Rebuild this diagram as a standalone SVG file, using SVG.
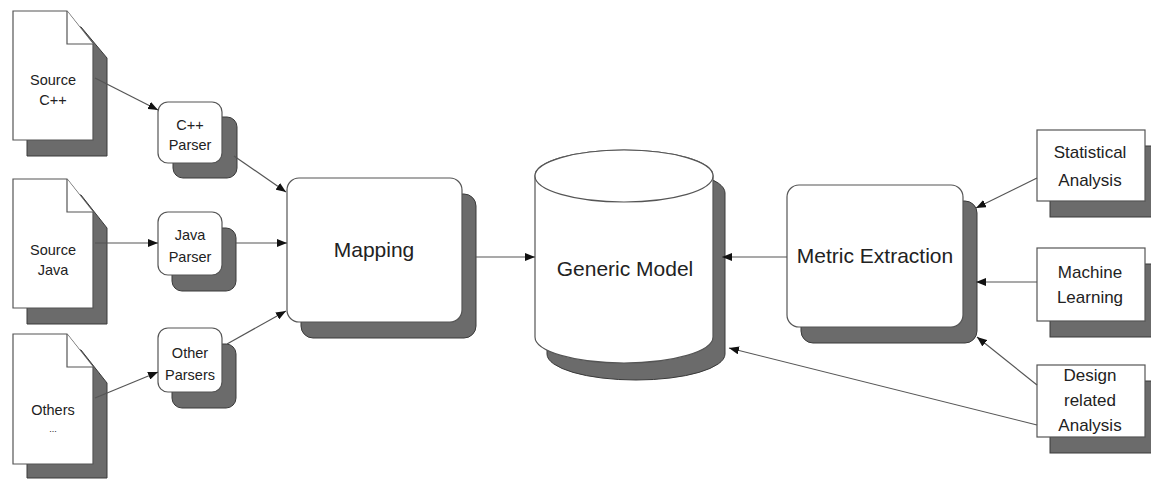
<svg xmlns="http://www.w3.org/2000/svg" width="1151" height="479" viewBox="0 0 1151 479">
<defs>
<style>
.sh{fill:#6b6b6b;stroke:#3a3a3a;stroke-width:1}
.bx{fill:#fff;stroke:#555;stroke-width:1.2}
.t{font-family:"Liberation Sans",Arial,sans-serif;fill:#222;text-anchor:middle}
.s{font-size:14.5px}
.m{font-size:17px}
.l{font-size:21px}
.c{fill:none;stroke:#555;stroke-width:1.2}
</style>
<marker id="ah" viewBox="0 0 10 8" refX="10" refY="4" markerWidth="10" markerHeight="8" markerUnits="userSpaceOnUse" orient="auto">
<path d="M0,0 L10,4 L0,8 Z" fill="#111"/>
</marker>
</defs>
<rect width="1151" height="479" fill="#fff"/>

<g id="src-cpp">
<path class="sh" d="M27,27 L81,27 L107,58 L107,156 L27,156 Z"/>
<path class="bx" d="M13,11 L67,11 L93,44 L93,140 L13,140 Z"/>
<path class="bx" d="M67,11 L67,44 L93,44"/>
<text class="t s" x="53" y="85">Source</text>
<text class="t s" x="53" y="105">C++</text>
</g>
<g id="src-java">
<path class="sh" d="M27,195 L81,195 L107,228 L107,324 L27,324 Z"/>
<path class="bx" d="M13,179 L67,179 L93,212 L93,308 L13,308 Z"/>
<path class="bx" d="M67,179 L67,212 L93,212"/>
<text class="t s" x="53" y="255">Source</text>
<text class="t s" x="53" y="275">Java</text>
</g>
<g id="src-others">
<path class="sh" d="M27,350 L81,350 L107,383 L107,478 L27,478 Z"/>
<path class="bx" d="M13,334 L67,334 L93,367 L93,464 L13,464 Z"/>
<path class="bx" d="M67,334 L67,367 L93,367"/>
<text class="t s" x="53" y="415">Others</text>
<text class="t" x="53" y="432" style="font-size:9px">...</text>
</g>

<g id="cpp-parser">
<rect class="sh" x="173" y="117" width="64" height="61" rx="10"/>
<rect class="bx" x="158" y="102" width="64" height="61" rx="10"/>
<text class="t s" x="190" y="130">C++</text>
<text class="t s" x="190" y="150">Parser</text>
</g>
<g id="java-parser">
<rect class="sh" x="172" y="228" width="64" height="63" rx="10"/>
<rect class="bx" x="158" y="212" width="64" height="63" rx="10"/>
<text class="t s" x="190" y="240">Java</text>
<text class="t s" x="190" y="262">Parser</text>
</g>
<g id="other-parsers">
<rect class="sh" x="172" y="344" width="64" height="64" rx="10"/>
<rect class="bx" x="158" y="328" width="64" height="64" rx="10"/>
<text class="t s" x="190" y="358">Other</text>
<text class="t s" x="190" y="380">Parsers</text>
</g>

<g id="mapping">
<rect class="sh" x="301" y="194" width="175" height="144" rx="12"/>
<rect class="bx" x="287" y="178" width="175" height="144" rx="12"/>
<text class="t l" x="374" y="257">Mapping</text>
</g>

<g id="generic-model">
<path class="sh" d="M547,193 A89,26 0 0 1 725,193 L725,354 A89,26 0 0 1 547,354 Z"/>
<path class="bx" d="M535,176 A89,26 0 0 1 713,176 L713,337 A89,26 0 0 1 535,337 Z"/>
<ellipse class="bx" cx="624" cy="176" rx="89" ry="26"/>
<text class="t l" x="625" y="276">Generic Model</text>
</g>

<g id="metric-extraction">
<rect class="sh" x="801" y="201" width="176" height="142" rx="12"/>
<rect class="bx" x="787" y="185" width="176" height="142" rx="12"/>
<text class="t l" x="875" y="263">Metric Extraction</text>
</g>

<g id="statistical">
<rect class="sh" x="1050" y="146" width="108" height="71"/>
<rect class="bx" x="1037" y="130" width="108" height="71"/>
<text class="t m" x="1090" y="158">Statistical</text>
<text class="t m" x="1090" y="186">Analysis</text>
</g>
<g id="machine-learning">
<rect class="sh" x="1050" y="264" width="108" height="73"/>
<rect class="bx" x="1037" y="248" width="108" height="73"/>
<text class="t m" x="1090" y="278">Machine</text>
<text class="t m" x="1090" y="303">Learning</text>
</g>
<g id="design-analysis">
<rect class="sh" x="1050" y="381" width="108" height="72"/>
<rect class="bx" x="1037" y="365" width="108" height="72"/>
<text class="t m" x="1090" y="381">Design</text>
<text class="t m" x="1090" y="406">related</text>
<text class="t m" x="1090" y="431">Analysis</text>
</g>

<g id="connectors">
<line class="c" x1="95" y1="78" x2="158" y2="110" marker-end="url(#ah)"/>
<line class="c" x1="95" y1="243" x2="158" y2="243" marker-end="url(#ah)"/>
<line class="c" x1="95" y1="398" x2="158" y2="372" marker-end="url(#ah)"/>
<line class="c" x1="234" y1="156" x2="286" y2="192" marker-end="url(#ah)"/>
<line class="c" x1="236" y1="243" x2="287" y2="243" marker-end="url(#ah)"/>
<line class="c" x1="227" y1="344" x2="286" y2="311" marker-end="url(#ah)"/>
<line class="c" x1="476" y1="257" x2="535" y2="257" marker-end="url(#ah)"/>
<line class="c" x1="787" y1="257" x2="722" y2="257" marker-end="url(#ah)"/>
<line class="c" x1="1037" y1="178" x2="976" y2="208" marker-end="url(#ah)"/>
<line class="c" x1="1037" y1="282" x2="976" y2="282" marker-end="url(#ah)"/>
<line class="c" x1="1037" y1="385" x2="977" y2="337" marker-end="url(#ah)"/>
<line class="c" x1="1037" y1="425" x2="729" y2="348" marker-end="url(#ah)"/>
</g>
</svg>
